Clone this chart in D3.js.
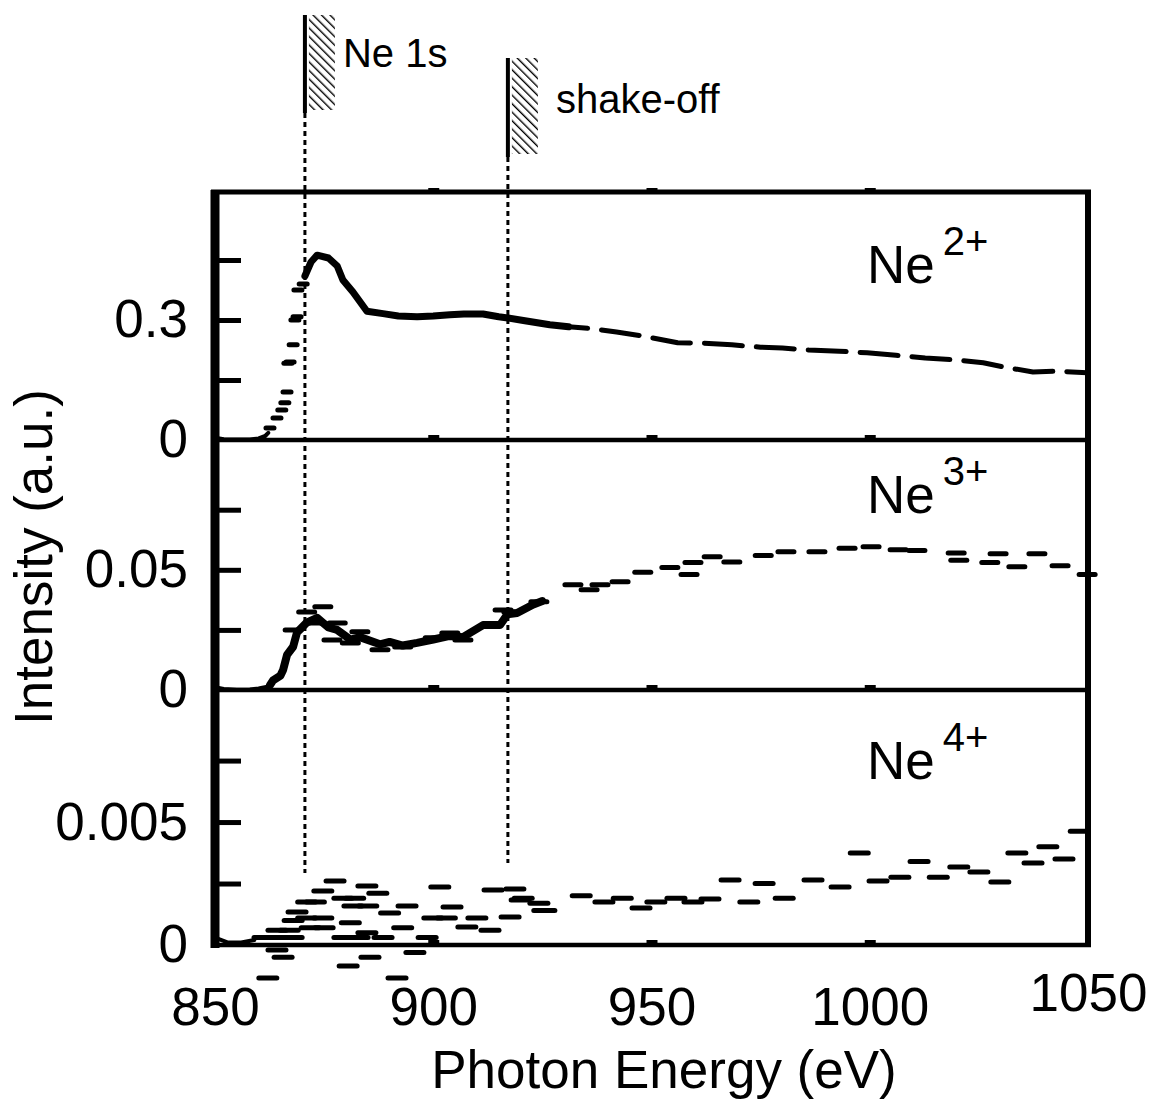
<!DOCTYPE html>
<meta charset="utf-8">
<script src="https://d3js.org/d3.v7.min.js"></script>
<style>
  body { margin: 0; background: #fff; }
  text { font-family: "Liberation Sans", Arial, Helvetica, sans-serif; fill: #000; }
</style>
<div id="chart"></div>
<script>

// threshold markers (eV)
var edgeEnergies = [870.6, 917.1];
var edgeLabels = ["Ne 1s", "shake-off"];
var xTicks = [850, 900, 950, 1000, 1050];
var ionCharges = ["2+", "3+", "4+"];

// Ne2+ : baseline, rising edge points, main trace
var ne2Base = [[850,0.006],[852,0.002],[855,0.001],[858,0.001],[860,0.004],[861.5,0.010],[862.2,0.018]];
var ne2Rise = [[862.6,0.030],[864.2,0.055],[865.3,0.075],[866.0,0.093],[866.5,0.12],[866.7,0.192],
  [867.2,0.195],[867.9,0.238],[868.3,0.30],[868.8,0.308],[869.0,0.375],[870.2,0.39]];
var ne2Main = [[870.6,0.41],[872,0.445],[873.4,0.462],[876,0.455],[878,0.435],[879.3,0.40],[881.6,0.37],
  [884.8,0.322],[888.5,0.316],[892,0.31],[896.3,0.308],[900,0.31],[903.8,0.313],[907,0.315],[911.4,0.315],
  [915,0.308],[917.1,0.305],[921,0.298],[926.7,0.288],[931,0.283],[936.6,0.278],[942,0.27],[948,0.26],
  [956,0.243],[962,0.242],[968.4,0.238],[975,0.232],[980,0.23],[986,0.225],[993,0.222],[999.4,0.218],
  [1006,0.212],[1012.7,0.205],[1020,0.2],[1026,0.193],[1031,0.182],[1037.4,0.17],[1043,0.172],[1049.8,0.168]];

// Ne3+
var ne3Base = [[850,0.0012],[852,0.0004],[855,0.0001],[858,0.0002],[860,0.0006],[862,0.0014]];
var ne3Trace = [[862.6,0.002],[863.3,0.004],[865,0.006],[865.6,0.0083],[866.5,0.0146],[867.9,0.018],
  [868.8,0.024],[871,0.028],[873.4,0.030],[876,0.026],[878,0.025],[881,0.021],[883.2,0.022],[887.8,0.019],
  [890,0.02],[893,0.0185],[896.3,0.0196],[900,0.021],[903.8,0.0225],[906.8,0.022],[911.4,0.027],
  [915.3,0.027],[917,0.0315],[919.2,0.032],[922.8,0.0355],[925,0.037]];
var ne3Dots = [[871,0.0325],[874.7,0.0346],[867.9,0.025],[873.4,0.0279],[878,0.0279],[876.8,0.0208],
  [881,0.0196],[883.2,0.0242],[887.8,0.0167],[893,0.0179],[900,0.0217],[903.8,0.0237],[906.8,0.0208],
  [916,0.0333],[918,0.0325],[924.2,0.0367],[932,0.0438],[935.7,0.0417],[938.2,0.0438],[942.8,0.045],
  [948,0.049],[954.2,0.051],[958.6,0.048],[959.5,0.053],[963.9,0.0554],[968.4,0.0533],[975.6,0.056],
  [980.8,0.0575],[987.9,0.0575],[994.8,0.059],[1000.3,0.0596],[1006.5,0.0583],[1010.8,0.058],
  [1019.8,0.057],[1020.4,0.054],[1027.5,0.053],[1029.4,0.0567],[1033.7,0.0513],[1038.3,0.0567],
  [1043.6,0.0517],[1049.8,0.048]];

// Ne4+
var ne4Base = [[850,0.0003],[853,0.0001],[856,0.0001],[859,0.0002]];
var ne4Dots = [[877.5,0.0026],[874.7,0.0022],[884.8,0.0024],[887.3,0.0021],[901.5,0.00236],[913.7,0.00224],
  [918.7,0.00228],[871,0.00175],[873,0.00175],[879.3,0.0019],[882,0.0019],[881.6,0.00159],[885,0.00159],
  [894,0.00159],[904.3,0.00155],[919.9,0.00183],[868.8,0.00134],[890,0.0013],[925.1,0.0014],[867.9,0.001],
  [871,0.0011],[874.7,0.0011],[881,0.0009],[899.9,0.0011],[903,0.0011],[910,0.0011],[917.6,0.00114],
  [864.2,0.0006],[867,0.0006],[871.8,0.0007],[875,0.0007],[884.8,0.0005],[893,0.0007],[907.7,0.00073],
  [913,0.0006],[861,0.0003],[864,0.0003],[867.9,0.0003],[879.3,0.0003],[883,0.0003],[888.5,0.0003],
  [898.6,0.0003],[865.6,-0.0005],[864.2,-0.0002],[885.5,-0.0005],[895.8,-0.0003],[880.5,-0.00085],
  [862.1,-0.00134],[891.7,-0.00134],[920.6,0.0019],[924.2,0.0017],[925.8,0.0014],[933.9,0.002],
  [939.1,0.00175],[943.3,0.0019],[947.6,0.0015],[951,0.00175],[955.6,0.0019],[959.5,0.00175],
  [963.4,0.00187],[968,0.00264],[972.3,0.00175],[975.8,0.0025],[980.4,0.0019],[987,0.00264],
  [993.2,0.00236],[997.6,0.00374],[1001.9,0.0026],[1006.9,0.00276],[1011.3,0.0034],[1015.7,0.00276],
  [1020.4,0.00317],[1025,0.00297],[1029.8,0.00256],[1033.7,0.00374],[1037.4,0.00333],[1040.8,0.0040],
  [1044.5,0.0035],[1048,0.00463]];

var width = 1155, height = 1108;
var fs = 53;

var svg = d3.select("#chart").append("svg")
  .attr("width", width).attr("height", height);

var x = d3.scaleLinear().domain([850, 1050]).range([215, 1088]);
var y1 = d3.scaleLinear().domain([0, 0.62]).range([440, 192]);
var y2 = d3.scaleLinear().domain([0, 0.104]).range([690, 440]);
var y3 = d3.scaleLinear().domain([0, 0.01037]).range([945, 690]);

var panels = [
  { y: y1, ticks: [0.15, 0.3, 0.45], labels: [0, 0.3] },
  { y: y2, ticks: [0.025, 0.05, 0.075], labels: [0, 0.05] },
  { y: y3, ticks: [0.0025, 0.005, 0.0075], labels: [0, 0.005] }
];

// hatch pattern for the threshold markers
svg.append("defs").append("pattern")
  .attr("id", "hatch").attr("patternUnits", "userSpaceOnUse")
  .attr("width", 6).attr("height", 6)
  .attr("patternTransform", "rotate(-45)")
  .append("line")
    .attr("x1", 0).attr("y1", 0).attr("x2", 0).attr("y2", 6)
    .attr("stroke", "#000").attr("stroke-width", 2.8);

// frame
var left = x.range()[0], right = x.range()[1];
svg.append("line").attr("x1", left - 4).attr("x2", right + 3).attr("y1", 192).attr("y2", 192)
  .attr("stroke", "#000").attr("stroke-width", 5);
svg.append("line").attr("x1", right).attr("x2", right).attr("y1", 190).attr("y2", 947)
  .attr("stroke", "#000").attr("stroke-width", 6);
panels.forEach(function(p) {
  var yb = p.y.range()[0];
  svg.append("line").attr("x1", left - 4).attr("x2", right + 3).attr("y1", yb).attr("y2", yb)
    .attr("stroke", "#000").attr("stroke-width", 4.5);

  // inward y ticks
  var ax = svg.append("g").attr("transform", "translate(" + left + ",0)")
    .call(d3.axisLeft(p.y).tickValues(p.ticks).tickSize(-26).tickFormat(""));
  ax.select(".domain").remove();
  ax.selectAll("line").attr("stroke-width", 5);

  // labels
  var lab = svg.append("g").attr("transform", "translate(" + left + ",0)")
    .call(d3.axisLeft(p.y).tickValues(p.labels).tickSize(0).tickPadding(27).tickFormat(d3.format("~g")));
  lab.select(".domain").remove();
  lab.selectAll("text").attr("font-size", fs).attr("font-family", null);

  // small x ticks along the panel bottom
  var xt = svg.append("g").attr("transform", "translate(0," + (yb - 1) + ")")
    .call(d3.axisTop(x).tickValues([900, 950, 1000]).tickSize(4).tickFormat(""));
  xt.select(".domain").remove();
  xt.selectAll("line").attr("stroke-width", 11);
});

// top frame bumps
var xtop = svg.append("g").attr("transform", "translate(0,191)")
  .call(d3.axisTop(x).tickValues([900, 950, 1000]).tickSize(3).tickFormat(""));
xtop.select(".domain").remove();
xtop.selectAll("line").attr("stroke-width", 11);

// left spine
svg.append("line").attr("x1", left).attr("x2", left).attr("y1", 190).attr("y2", 948)
  .attr("stroke", "#000").attr("stroke-width", 9);

// x tick labels
var xa = svg.append("g").attr("transform", "translate(0,945)")
  .call(d3.axisBottom(x).tickValues(xTicks).tickSize(0).tickPadding(42).tickFormat(d3.format("d")));
xa.select(".domain").remove();
xa.selectAll("text").attr("font-size", fs).attr("font-family", null);
xa.selectAll("text").filter(function(d) { return d === 1050; }).attr("dy", "0.45em");

// axis titles
svg.append("text").attr("x", 664).attr("y", 1088).attr("text-anchor", "middle")
  .attr("font-size", fs).text("Photon Energy (eV)");
svg.append("text").attr("transform", "translate(52,557) rotate(-90)").attr("text-anchor", "middle")
  .attr("font-size", fs).text("Intensity (a.u.)");

// threshold markers
var markerTop = [15, 58], markerBottom = [113, 157], dotEnd = [873, 863];
edgeEnergies.forEach(function(e, i) {
  var xe = x(e);
  svg.append("line").attr("x1", xe).attr("x2", xe).attr("y1", markerTop[i]).attr("y2", markerBottom[i])
    .attr("stroke", "#000").attr("stroke-width", 4);
  svg.append("line").attr("x1", xe).attr("x2", xe).attr("y1", markerBottom[i]).attr("y2", dotEnd[i])
    .attr("stroke", "#000").attr("stroke-width", 3).attr("stroke-dasharray", "5,4");
  svg.append("rect").attr("x", xe + 4).attr("y", markerTop[i]).attr("width", 26)
    .attr("height", markerBottom[i] - markerTop[i] - 3).attr("fill", "url(#hatch)");
});
svg.append("text").attr("x", x(edgeEnergies[0]) + 38).attr("y", 67).attr("font-size", 40).text(edgeLabels[0]);
svg.append("text").attr("x", x(edgeEnergies[1]) + 48).attr("y", 113).attr("font-size", 40).text(edgeLabels[1]);

// ion labels
var ionBase = [283, 513, 779];
ionCharges.forEach(function(c, i) {
  var t = svg.append("text").attr("x", 867).attr("y", ionBase[i]).attr("font-size", fs);
  t.append("tspan").text("Ne");
  t.append("tspan").attr("dx", 8).attr("dy", -28).attr("font-size", 40).text(c);
});

// data drawing helpers
function trace(data, y, w, dash) {
  svg.append("path").datum(data)
    .attr("fill", "none").attr("stroke", "#000").attr("stroke-width", w)
    .attr("stroke-linejoin", "round").attr("stroke-linecap", "round")
    .attr("stroke-dasharray", dash || null)
    .attr("d", d3.line().x(function(d) { return x(d[0]); }).y(function(d) { return y(d[1]); }));
}
function dashes(data, y, len, w) {
  svg.append("g").selectAll("line").data(data).enter().append("line")
    .attr("x1", function(d) { return x(d[0]) - len / 2; })
    .attr("x2", function(d) { return x(d[0]) + len / 2; })
    .attr("y1", function(d) { return y(d[1]); })
    .attr("y2", function(d) { return y(d[1]); })
    .attr("stroke", "#000").attr("stroke-width", w).attr("stroke-linecap", "round");
}

// Ne2+
trace(ne2Base, y1, 4);
dashes(ne2Rise, y1, 8, 5);
trace(ne2Main.filter(function(d) { return d[0] <= 931; }), y1, 7);
trace(ne2Main.filter(function(d) { return d[0] >= 926; }), y1, 5, "38,14");

// Ne3+
trace(ne3Base, y2, 4);
trace(ne3Trace, y2, 8);
dashes(ne3Dots, y2, 16, 5);

// Ne4+
trace(ne4Base, y3, 4);
dashes(ne4Dots, y3, 18, 5);

</script>
